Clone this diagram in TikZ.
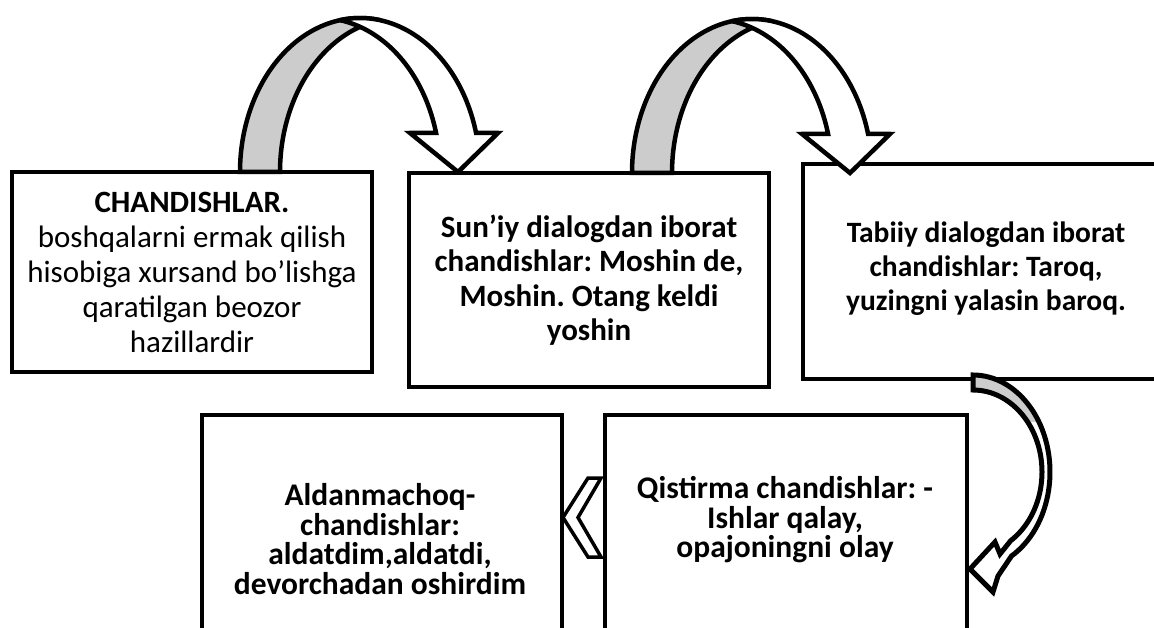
\documentclass[tikz,border=0pt]{standalone}
\usepackage{fontspec}
\setmainfont{Carlito}
\frenchspacing
\definecolor{arrgray}{HTML}{CCCCCC}
\begin{document}
\begin{tikzpicture}[x=1pt,y=-1pt,
  box/.style={draw, line width=4pt, fill=white, inner sep=0pt},
  txt/.style={align=center, inner sep=0pt},
  arr/.style={line width=4.5pt, line join=miter},
  lowfont/.style={font=\fontsize{31.5}{29.5}\selectfont\bfseries},
]
\useasboundingbox (0,0) rectangle (1154,628);

% boxes
\node[box, minimum width=360pt, minimum height=200pt] (b1) at (192,272) {};
\node[box, minimum width=360pt, minimum height=214pt] (b2) at (589,280) {};
\node[box, minimum width=362pt, minimum height=215pt] (b3) at (984,271.5) {};
\node[box, minimum width=362pt, minimum height=245pt] (b4) at (786,537.5) {};
\node[box, minimum width=360pt, minimum height=245pt] (b5) at (382,537.5) {};

% texts
\node[txt, font=\fontsize{31}{35}\selectfont] (t1) at (b1.center)
  {\textbf{CHANDISHLAR.}\\boshqalarni ermak qilish\\hisobiga xursand bo’lishga\\qaratilgan beozor\\hazillardir};
\node[txt, font=\fontsize{31}{34.5}\selectfont\bfseries] (t2) at (b2.center)
  {Sun’iy dialogdan iborat\\chandishlar: Moshin de,\\Moshin. Otang keldi\\yoshin};
\node[txt, font=\fontsize{29.5}{34}\selectfont\bfseries] (t3) at (986,269)
  {Tabiiy dialogdan iborat\\chandishlar: Taroq,\\yuzingni yalasin baroq.};
\node[txt, lowfont] (t4) at (785,520)
  {Qistirma chandishlar: -\\Ishlar qalay,\\opajoningni olay};
\node[txt, lowfont] (t5) at (380,539)
  {Aldanmachoq-\\chandishlar:\\aldatdim,aldatdi,\\devorchadan oshirdim};

% big curved arrows (two congruent ellipses shifted by the band width)
\foreach \cx/\cy in {360/172, 752/173}{
\begin{scope}[shift={(\cx,\cy)}]
\filldraw[arr, fill=arrgray]
  plot[domain=180:279.6,samples=60,variable=\t] ({120*cos(\t)},{154*sin(\t)})
  -- plot[domain=260.4:180,samples=60,variable=\t] ({40+120*cos(\t)},{154*sin(\t)})
  -- cycle;
\filldraw[arr, fill=white]
  plot[domain=260.4:345.3,samples=60,variable=\t] ({120*cos(\t)},{154*sin(\t)})
  -- (138,-39) -- (98,0) -- (50,-39)
  -- plot[domain=345.3:279.6,samples=60,variable=\t] ({-40+120*cos(\t)},{154*sin(\t)})
  -- cycle;
\end{scope}
}

% small curved arrow
\def\smallarrowpath{plot[domain=-90:60,samples=50,variable=\t] ({77*cos(\t)},{97*sin(\t)}) -- (25,104) -- (20,120) -- (-3,97) -- (22,70) -- (27,82) -- plot[domain=57:-90,samples=50,variable=\t] ({69*cos(\t)},{82*sin(\t)}) -- cycle}
\begin{scope}[shift={(973,472)}]
\fill[white] \smallarrowpath;
\begin{scope}
\clip \smallarrowpath;
\fill[arrgray] (-20,-110) rectangle (90,-50);
\end{scope}
\draw[line width=5pt, line join=miter] \smallarrowpath;
\end{scope}

% chevron
\filldraw[fill=white, line width=3.5pt] (588,478) -- (601,478) -- (578,517.5) -- (601,557) -- (588,557) -- (563,517.5) -- cycle;
\end{tikzpicture}
\end{document}
